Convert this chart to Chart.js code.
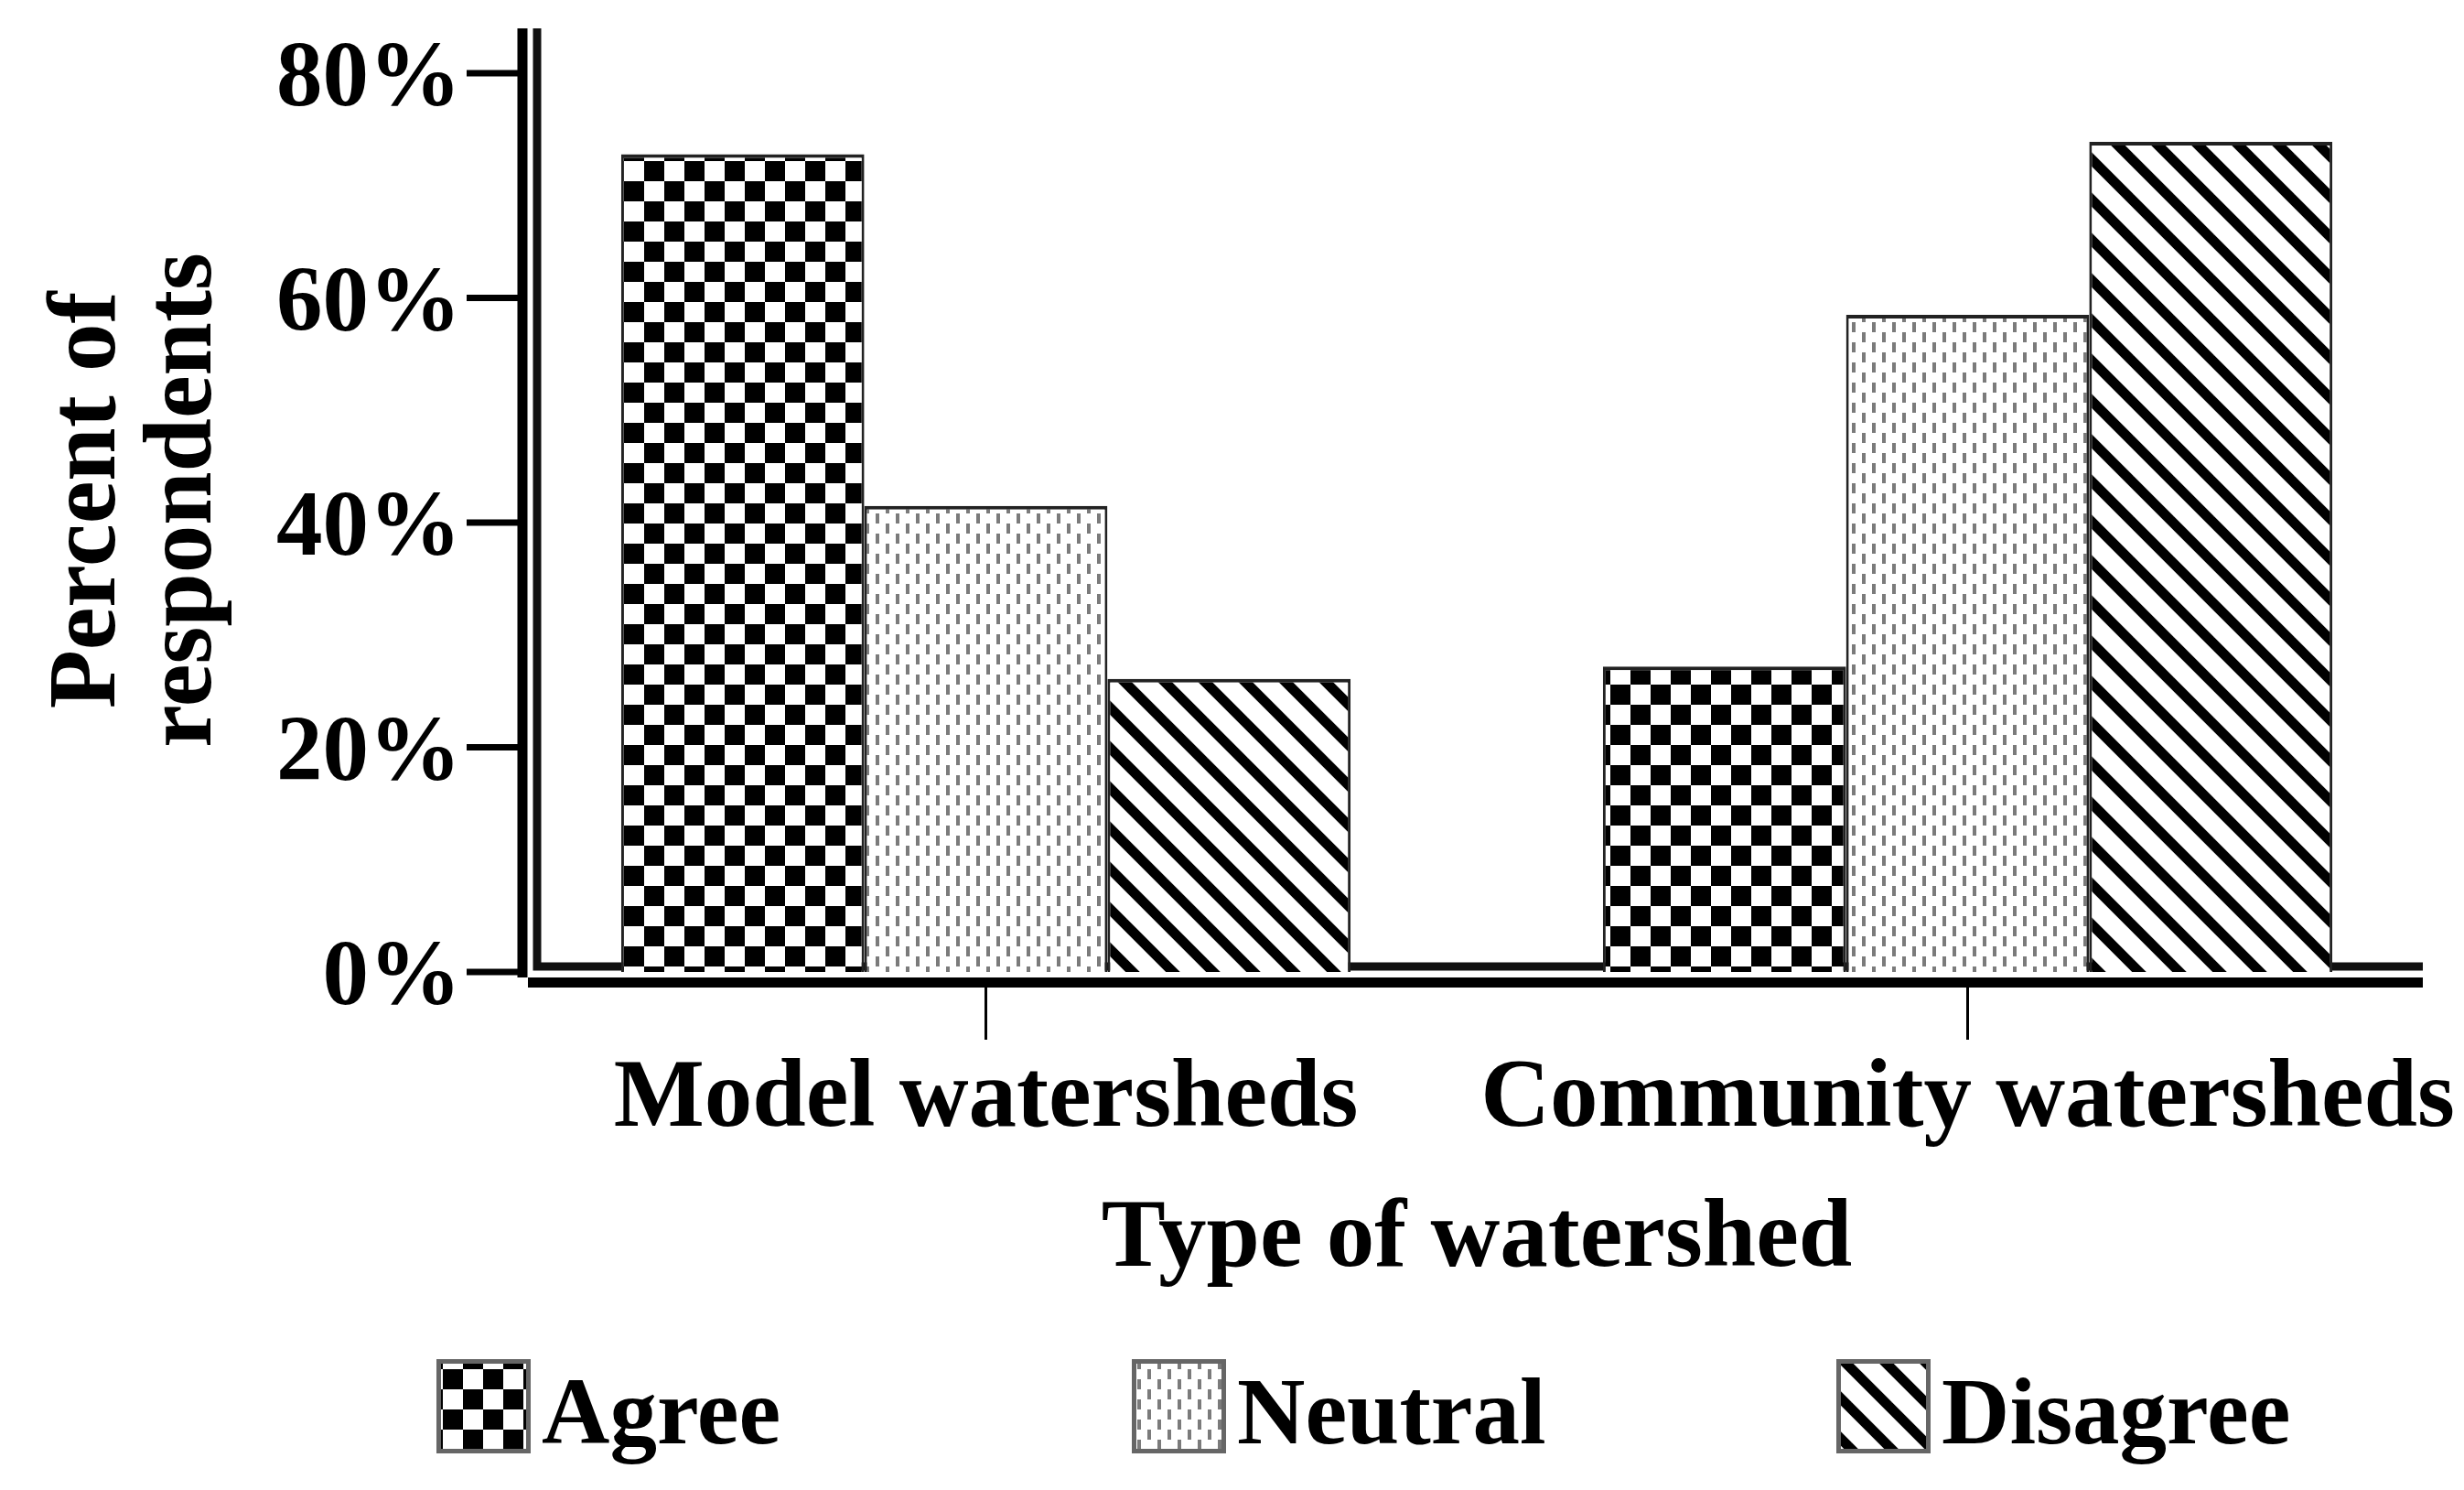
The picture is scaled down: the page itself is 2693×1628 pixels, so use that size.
<!DOCTYPE html>
<html>
<head>
<meta charset="utf-8">
<script src="https://cdn.jsdelivr.net/npm/chart.js@4.4.1/dist/chart.umd.min.js"></script>
<style>
  html, body { margin: 0; padding: 0; background: #fff; }
  canvas { display: block; }
</style>
</head>
<body>
<canvas id="myChart" width="2693" height="1628"></canvas>
<script>
const categories = ['Model watersheds', 'Community watersheds'];
const seriesNames = ['Agree', 'Neutral', 'Disagree'];
const agree = [72.8, 27.2];
const neutral = [41.5, 58.5];
const disagree = [26.1, 73.9];
const yMax = 84;
const yStep = 20;

const FONT = "'Liberation Serif', 'Times New Roman', serif";
Chart.defaults.font.family = FONT;
Chart.defaults.font.weight = 'bold';
Chart.defaults.color = '#000';

let myChart = document.getElementById('myChart').getContext('2d');

function makePattern(size, draw) {
  const c = document.createElement('canvas');
  c.width = size;
  c.height = size;
  const g = c.getContext('2d');
  g.fillStyle = '#fff';
  g.fillRect(0, 0, size, size);
  draw(g, size);
  return myChart.createPattern(c, 'repeat');
}

// checkerboard, fine gray dashes, diagonal stripes
const checker = makePattern(44, (g) => {
  g.fillStyle = '#000';
  g.fillRect(0, 0, 22, 22);
  g.fillRect(22, 22, 22, 22);
});
const dots = makePattern(22, (g) => {
  g.fillStyle = '#7b7b7b';
  g.fillRect(0, 0, 4, 11);
  g.fillRect(11, 11, 4, 11);
});
const stripes = makePattern(44, (g, s) => {
  g.strokeStyle = '#000';
  g.lineWidth = 11;
  for (const k of [-s, 0, s]) {
    g.beginPath();
    g.moveTo(k - 6, -6);
    g.lineTo(k + s + 6, s + 6);
    g.stroke();
  }
});

const series = [agree, neutral, disagree];
const fills = [checker, dots, stripes];

// double axis lines + tick marks like the original SPSS frame
const frame = {
  id: 'frame',
  beforeDatasetsDraw(chart) {
    const {ctx, chartArea: a} = chart;
    ctx.save();
    ctx.strokeStyle = '#111';
    ctx.lineWidth = 9;
    ctx.beginPath();
    ctx.moveTo(a.left + 46, a.top);
    ctx.lineTo(a.left + 46, a.bottom - 6);
    ctx.lineTo(a.right - 39, a.bottom - 6);
    ctx.stroke();
    ctx.restore();
  },
  afterDatasetsDraw(chart) {
    const {ctx, chartArea: a, scales: {x, y}} = chart;
    ctx.save();
    ctx.strokeStyle = '#000';
    ctx.lineWidth = 11;
    ctx.beginPath();
    ctx.moveTo(a.left + 30, a.top);
    ctx.lineTo(a.left + 30, a.bottom + 6);
    ctx.stroke();
    ctx.beginPath();
    ctx.moveTo(a.left + 36, a.bottom + 11.5);
    ctx.lineTo(a.right - 39, a.bottom + 11.5);
    ctx.stroke();

    ctx.lineWidth = 7;
    y.ticks.forEach(t => {
      const py = y.getPixelForValue(t.value);
      ctx.beginPath();
      ctx.moveTo(a.left - 31, py);
      ctx.lineTo(a.left + 25, py);
      ctx.stroke();
    });

    ctx.lineWidth = 3;
    x.ticks.forEach((t, i) => {
      const px = x.getPixelForTick(i);
      ctx.beginPath();
      ctx.moveTo(px, a.bottom + 17);
      ctx.lineTo(px, a.bottom + 74);
      ctx.stroke();
    });
    ctx.restore();
  }
};

// legend in fixed columns along the bottom
const legendCols = [477, 1237, 2007];
const legendBox = {
  id: 'legendBox',
  afterDraw(chart) {
    const {ctx} = chart;
    const top = chart.height - 143;
    const size = 103;
    ctx.save();
    chart.data.datasets.forEach((ds, i) => {
      const left = legendCols[i];
      ctx.fillStyle = ds.backgroundColor;
      ctx.fillRect(left, top, size, size);
      ctx.strokeStyle = '#666';
      ctx.lineWidth = 5;
      ctx.strokeRect(left + 2.5, top + 2.5, size - 5, size - 5);
      ctx.fillStyle = '#000';
      ctx.font = 'bold 103px ' + FONT;
      ctx.textBaseline = 'alphabetic';
      ctx.textAlign = 'left';
      ctx.fillText(ds.label, left + size + 12, top + 92);
    });
    ctx.restore();
  }
};

const data = {
  labels: categories,
  datasets: seriesNames.map((name, i) => ({
    label: name,
    data: series[i],
    backgroundColor: fills[i],
    borderColor: '#222',
    borderWidth: {top: 4, left: 3, right: 3, bottom: 0},
    categoryPercentage: 0.743,
    barPercentage: 1.0
  }))
};

const config = {
  type: 'bar',
  data: data,
  options: {
    responsive: false,
    animation: false,
    layout: {
      padding: {top: 31, right: 6, bottom: 209, left: 0}
    },
    plugins: {
      legend: {display: false},
      tooltip: {enabled: false}
    },
    scales: {
      x: {
        grid: {display: false, drawTicks: false},
        border: {display: false},
        ticks: {
          color: '#000',
          padding: 78,
          maxRotation: 0,
          autoSkip: false,
          font: {size: 105, weight: 'bold'}
        },
        title: {
          display: true,
          text: 'Type of watershed',
          color: '#000',
          padding: 0,
          font: {size: 105, weight: 'bold'}
        },
        afterFit(s) {
          s.height = 357;
          s.paddingLeft = 0;
          s.paddingRight = 0;
        }
      },
      y: {
        min: 0,
        max: yMax,
        grid: {display: false, drawTicks: false},
        border: {display: false},
        ticks: {
          stepSize: yStep,
          includeBounds: false,
          color: '#000',
          padding: 37,
          labelOffset: 9,
          font: {size: 101, weight: 'bold'},
          callback: v => v + '%'
        },
        title: {
          display: true,
          text: ['Percent of', 'respondents'],
          color: '#000',
          padding: {top: 45, bottom: 0},
          font: {size: 105, weight: 'bold', lineHeight: 1.0}
        },
        afterFit(s) {
          s.width = 541;
          s.paddingTop = 0;
          s.paddingBottom = 0;
        }
      }
    }
  },
  plugins: [frame, legendBox]
};

let barChart = new Chart(myChart, config);
</script>
</body>
</html>
